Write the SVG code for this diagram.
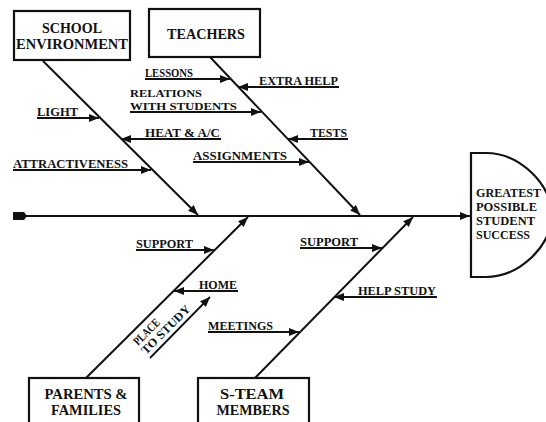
<svg xmlns="http://www.w3.org/2000/svg" width="546" height="422" viewBox="0 0 546 422">
<defs>
<marker id="ah" markerUnits="userSpaceOnUse" markerWidth="11" markerHeight="8" refX="10" refY="4" orient="auto">
<path d="M0,0 L10,4 L0,8 Z" fill="#111"/>
</marker>
<style>
.box{fill:#fff;stroke:#111;stroke-width:2.2}
.bone{stroke:#111;stroke-width:2;fill:none}
.sub{stroke:#111;stroke-width:1.8;fill:none}
.t{font-family:"Liberation Serif",serif;font-weight:bold;font-size:12px;fill:#111}
.s{font-family:"Liberation Serif",serif;font-weight:bold;font-size:11px;fill:#111}
.h{font-family:"Liberation Serif",serif;font-weight:bold;font-size:13px;fill:#111}
.bt{font-family:"Liberation Serif",serif;font-weight:bold;font-size:14px;fill:#111;text-anchor:middle}
</style>
</defs>
<rect width="546" height="422" fill="#fff"/>

<g id="connectors">
<line class="bone" x1="24" y1="216" x2="470" y2="216" marker-end="url(#ah)"/>
<polygon points="13,212 24,212 27,216 24,220 13,220" fill="#111"/>
<line class="bone" x1="43" y1="61" x2="198" y2="215" marker-end="url(#ah)"/>
<line class="bone" x1="210" y1="57" x2="360" y2="215" marker-end="url(#ah)"/>
<line class="bone" x1="86" y1="378" x2="248" y2="217" marker-end="url(#ah)"/>
<line class="bone" x1="255" y1="378" x2="413" y2="217" marker-end="url(#ah)"/>
<line class="sub" x1="37" y1="118" x2="99" y2="118" marker-end="url(#ah)"/>
<line class="sub" x1="221" y1="139" x2="121" y2="139" marker-end="url(#ah)"/>
<line class="sub" x1="13" y1="170" x2="151" y2="170" marker-end="url(#ah)"/>
<line class="sub" x1="145" y1="79" x2="230" y2="79" marker-end="url(#ah)"/>
<line class="sub" x1="339" y1="87" x2="238" y2="87" marker-end="url(#ah)"/>
<line class="sub" x1="130" y1="112" x2="261" y2="112" marker-end="url(#ah)"/>
<line class="sub" x1="348" y1="139" x2="288" y2="139" marker-end="url(#ah)"/>
<line class="sub" x1="193" y1="162" x2="309" y2="162" marker-end="url(#ah)"/>
<line class="sub" x1="136" y1="250" x2="214" y2="250" marker-end="url(#ah)"/>
<line class="sub" x1="238" y1="291" x2="174" y2="291" marker-end="url(#ah)"/>
<line class="sub" x1="150" y1="358" x2="210" y2="297" marker-end="url(#ah)"/>
<line class="sub" x1="300" y1="248" x2="382" y2="248" marker-end="url(#ah)"/>
<line class="sub" x1="437" y1="297" x2="334" y2="297" marker-end="url(#ah)"/>
<line class="sub" x1="208" y1="332" x2="299" y2="332" marker-end="url(#ah)"/>
</g>

<g id="school">
<rect class="box" x="14" y="11" width="116" height="49"/>
<text class="bt" x="72" y="33" textLength="60" lengthAdjust="spacingAndGlyphs">SCHOOL</text>
<text class="bt" x="72" y="49" textLength="112" lengthAdjust="spacingAndGlyphs">ENVIRONMENT</text>
</g>
<g id="teachers">
<rect class="box" x="149" y="9" width="111" height="48"/>
<text class="bt" x="206" y="39" textLength="78" lengthAdjust="spacingAndGlyphs">TEACHERS</text>
</g>
<g id="parents">
<rect class="box" x="29" y="378" width="110" height="52"/>
<text class="bt" x="86" y="399" textLength="83" lengthAdjust="spacingAndGlyphs">PARENTS &amp;</text>
<text class="bt" x="86" y="415" textLength="70" lengthAdjust="spacingAndGlyphs">FAMILIES</text>
</g>
<g id="steam">
<rect class="box" x="198" y="378" width="111" height="52"/>
<text class="bt" x="252" y="399" textLength="64" lengthAdjust="spacingAndGlyphs">S-TEAM</text>
<text class="bt" x="253" y="415" textLength="73" lengthAdjust="spacingAndGlyphs">MEMBERS</text>
</g>
<g id="effect">
<path d="M471,153 H486 C520,153 552,185 552,215 C552,245 520,277 486,277 H471 Z" fill="#fff" stroke="#111" stroke-width="2.2"/>
<text class="h" x="476" y="197" textLength="65" lengthAdjust="spacingAndGlyphs">GREATEST</text>
<text class="h" x="476" y="211" textLength="61" lengthAdjust="spacingAndGlyphs">POSSIBLE</text>
<text class="h" x="476" y="225" textLength="59" lengthAdjust="spacingAndGlyphs">STUDENT</text>
<text class="h" x="476" y="239" textLength="54" lengthAdjust="spacingAndGlyphs">SUCCESS</text>
</g>

<g id="labels">
<text class="t" x="37" y="116" textLength="41" lengthAdjust="spacingAndGlyphs">LIGHT</text>
<text class="t" x="145" y="137" textLength="75" lengthAdjust="spacingAndGlyphs">HEAT &amp; A/C</text>
<text class="t" x="13" y="168" textLength="115" lengthAdjust="spacingAndGlyphs">ATTRACTIVENESS</text>
<text class="t" x="145" y="77" textLength="48" lengthAdjust="spacingAndGlyphs">LESSONS</text>
<text class="t" x="259" y="85" textLength="79" lengthAdjust="spacingAndGlyphs">EXTRA HELP</text>
<text class="s" x="130" y="97" textLength="72" lengthAdjust="spacingAndGlyphs">RELATIONS</text>
<text class="s" x="130" y="110" textLength="107" lengthAdjust="spacingAndGlyphs">WITH STUDENTS</text>
<text class="t" x="310" y="137" textLength="37" lengthAdjust="spacingAndGlyphs">TESTS</text>
<text class="t" x="193" y="160" textLength="94" lengthAdjust="spacingAndGlyphs">ASSIGNMENTS</text>
<text class="t" x="136" y="248" textLength="57" lengthAdjust="spacingAndGlyphs">SUPPORT</text>
<text class="t" x="199" y="289" textLength="38" lengthAdjust="spacingAndGlyphs">HOME</text>
<text class="t" x="208" y="330" textLength="65" lengthAdjust="spacingAndGlyphs">MEETINGS</text>
<text class="t" x="300" y="246" textLength="58" lengthAdjust="spacingAndGlyphs">SUPPORT</text>
<text class="t" x="358" y="295" textLength="78" lengthAdjust="spacingAndGlyphs">HELP STUDY</text>
<text class="t" transform="translate(138,346) rotate(-45)" textLength="32" lengthAdjust="spacingAndGlyphs">PLACE</text>
<text class="t" transform="translate(146,355) rotate(-45)" textLength="64" lengthAdjust="spacingAndGlyphs">TO STUDY</text>
</g>
</svg>
